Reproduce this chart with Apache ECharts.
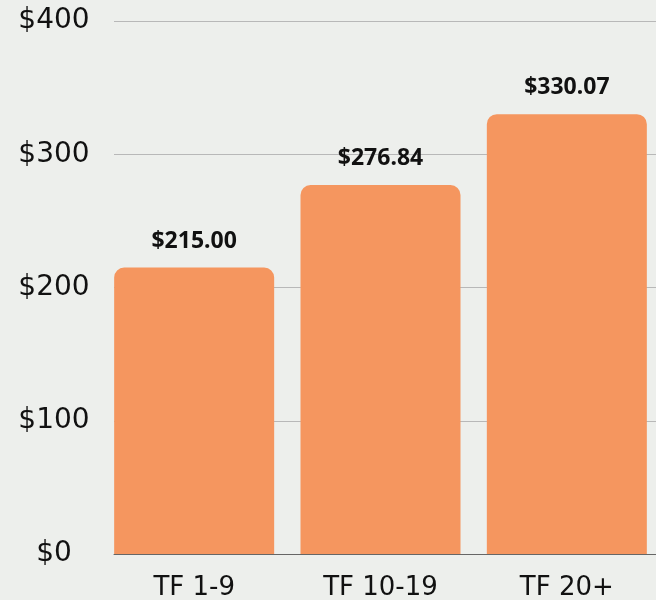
<!DOCTYPE html>
<html>
<head>
<meta charset="utf-8">
<script src="https://cdn.jsdelivr.net/npm/echarts@6/dist/echarts.min.js"></script>
<style>
html,body{margin:0;padding:0;background:#EDEFEC;}
#chart{width:656px;height:600px;}
</style>
</head>
<body>
<div id="chart"></div>
<script>
var categories = ['TF 1-9', 'TF 10-19', 'TF 20+'];
var values = [215.00, 276.84, 330.07];
var yTicks = [0, 100, 200, 300, 400];

var chart = echarts.init(document.getElementById('chart'), null, {renderer: 'canvas'});
var axisFont = 'DejaVu Sans';
chart.setOption({
  backgroundColor: '#EDEFEC',
  animation: false,
  grid: [
    {left: 114, right: 0, top: 21, bottom: 46, outerBoundsMode: 'none'},
    {left: 101, width: 559, top: 21, bottom: 46, outerBoundsMode: 'none', containLabel: false}
  ],
  xAxis: [
    {type: 'category', gridIndex: 0, data: categories,
     axisLine: {show: true, lineStyle: {color: '#666', width: 1}},
     axisTick: {show: false}, axisLabel: {show: false}, splitLine: {show: false}, z: 1},
    {type: 'category', gridIndex: 1, data: categories,
     axisLine: {show: false}, axisTick: {show: false},
     axisLabel: {show: true, color: '#111', fontFamily: axisFont, fontSize: 26, margin: 21,
                 verticalAlign: 'top'}}
  ],
  yAxis: [
    {type: 'value', gridIndex: 0, min: yTicks[0], max: yTicks[yTicks.length - 1], interval: 100,
     axisLine: {show: false}, axisTick: {show: false},
     splitLine: {show: true, lineStyle: {color: '#b8b8b8', width: 1}},
     axisLabel: {show: true, color: '#111', fontFamily: axisFont, fontSize: 28, align: 'center', margin: 60,
                 formatter: function (v) { return '$' + v; }}},
    {type: 'value', gridIndex: 1, min: yTicks[0], max: yTicks[yTicks.length - 1], interval: 100,
     axisLine: {show: false}, axisTick: {show: false}, splitLine: {show: false}, axisLabel: {show: false}}
  ],
  series: [{
    type: 'bar', xAxisIndex: 1, yAxisIndex: 1, data: values, barWidth: 160, z: 3,
    itemStyle: {color: '#F5965F', borderRadius: [10, 10, 0, 0]},
    label: {show: true, position: 'top', distance: 15, color: '#111', fontFamily: 'Noto Sans',
            fontWeight: 'bold', fontSize: 23,
            formatter: function (p) { return '$' + p.value.toFixed(2); }}
  }]
});
</script>
</body>
</html>
